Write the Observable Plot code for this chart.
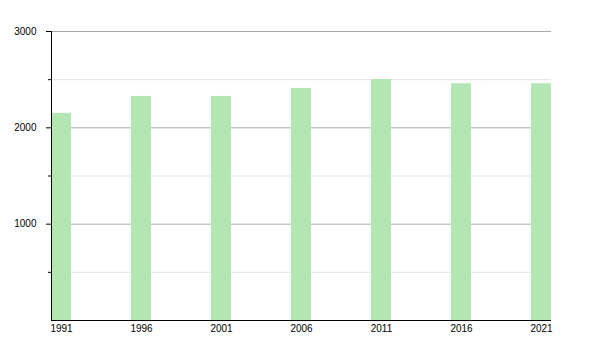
<!DOCTYPE html>
<html>
<head>
<meta charset="utf-8">
<script src="https://cdn.jsdelivr.net/npm/d3@7"></script>
<script src="https://cdn.jsdelivr.net/npm/@observablehq/plot@0.6"></script>
<style>
  html, body { margin: 0; padding: 0; background: #fff; }
  #chart svg { display: block; }
</style>
</head>
<body>
<div id="chart"></div>
<script>
const years = [1991, 1996, 2001, 2006, 2011, 2016, 2021];
const population = [2150, 2326, 2326, 2409, 2502, 2458, 2458];
const majorTicks = [1000, 2000, 3000];
const minorTicks = [500, 1500, 2500];

const data = years.map((year, i) => ({year, value: population[i]}));
const half = 0.625;
const xDomain = [years[0] - half, years[years.length - 1] + half];

const chart = Plot.plot({
  width: 600,
  height: 350,
  marginLeft: 51,
  marginRight: 49,
  marginTop: 31,
  marginBottom: 30,
  style: {fontFamily: "'Liberation Sans', Arial, sans-serif", fontSize: "10px", color: "#000", background: "#fff"},
  x: {type: "linear", domain: xDomain},
  y: {domain: [0, 3000]},
  marks: [
    Plot.ruleY(minorTicks, {stroke: "#e2e2e2", strokeOpacity: 1}),
    Plot.ruleY(majorTicks, {stroke: "#a8a8a8", strokeOpacity: 1}),
    Plot.rectY(data, {x1: d => d.year - half, x2: d => d.year + half, y: "value", fill: "#b3e6b3"}),
    Plot.ruleX([xDomain[0]], {y1: 0, y2: 3000, stroke: "#000"}),
    Plot.ruleY([0], {stroke: "#000"}),
    Plot.axisY(majorTicks, {tickSize: 5, tickPadding: 10, label: null, tickFormat: d => String(d), fontSize: 10}),
    Plot.axisY(minorTicks, {tickSize: 3, tickFormat: () => "", label: null}),
    Plot.axisX(years, {tickSize: 0, tickPadding: 4, label: null, tickFormat: d => String(d), fontSize: 10})
  ]
});
document.getElementById("chart").appendChild(chart);
</script>
</body>
</html>
